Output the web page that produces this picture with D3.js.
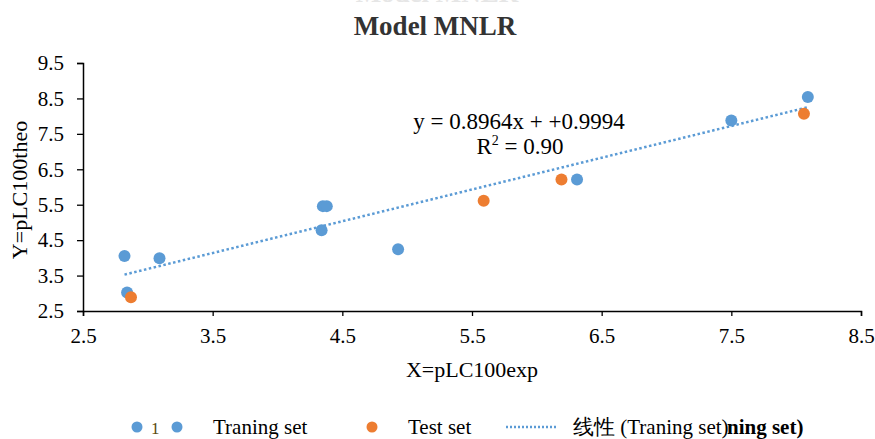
<!DOCTYPE html>
<html>
<head>
<meta charset="utf-8">
<script src="https://cdn.jsdelivr.net/npm/d3@7"></script>
<style>
  body { margin: 0; background: #fff; }
  svg text { font-family: "Liberation Serif", "Times New Roman", serif; fill: #000; }
</style>
</head>
<body>
<div id="chart"></div>
<script>
// values
var trainX = [2.82, 2.84, 3.09, 4.34, 4.35, 4.38, 4.93, 6.31, 7.50, 8.09];
var trainY = [4.05, 3.02, 3.99, 4.78, 5.46, 5.46, 4.24, 6.21, 7.88, 8.54];
var testX = [2.87, 5.59, 6.19, 8.06];
var testY = [2.89, 5.61, 6.21, 8.07];
var xTicks = [2.5, 3.5, 4.5, 5.5, 6.5, 7.5, 8.5];
var yTicks = [2.5, 3.5, 4.5, 5.5, 6.5, 7.5, 8.5, 9.5];
var slope = 0.8964, intercept = 0.9994;

var width = 875, height = 439;
var margin = {top: 63, right: 14, bottom: 128, left: 83};

var svg = d3.select("#chart").append("svg")
    .attr("width", width)
    .attr("height", height);

var x = d3.scaleLinear().domain([2.5, 8.5]).range([margin.left, width - margin.right]);
var y = d3.scaleLinear().domain([2.5, 9.5]).range([height - margin.bottom, margin.top]);

// faint clipped text at the very top (only its lower edge shows)
svg.append("text")
    .attr("x", 437).attr("y", 2)
    .attr("text-anchor", "middle")
    .style("font-size", "27px").style("font-weight", "bold").style("fill", "#e6e6e6")
    .text("Model MNLR");

// title
svg.append("text")
    .attr("x", 435).attr("y", 35)
    .attr("text-anchor", "middle")
    .style("font-size", "27px").style("font-weight", "bold").style("fill", "#333")
    .text("Model MNLR");

// axes
var xAxis = svg.append("g")
    .attr("transform", "translate(0," + y(2.5) + ")")
    .call(d3.axisBottom(x).tickValues(xTicks).tickSize(5).tickPadding(12).tickFormat(d3.format(".1f")));
var yAxis = svg.append("g")
    .attr("transform", "translate(" + x(2.5) + ",0)")
    .call(d3.axisLeft(y).tickValues(yTicks).tickSize(6).tickPadding(13).tickFormat(d3.format(".1f")));

[xAxis, yAxis].forEach(function(g) {
  g.select(".domain").attr("stroke", "#000").attr("stroke-width", 1.5);
  g.selectAll(".tick line").attr("stroke", "#000").attr("stroke-width", 1.3);
  g.selectAll(".tick text").style("font-size", "21px").attr("fill", "#000");
});

// axis labels
svg.append("text")
    .attr("x", 472).attr("y", 377)
    .attr("text-anchor", "middle")
    .style("font-size", "22px")
    .text("X=pLC100exp");
svg.append("text")
    .attr("transform", "translate(27,190) rotate(-90)")
    .attr("text-anchor", "middle")
    .style("font-size", "22px")
    .text("Y=pLC100theo");

// trend line over the training range
var x0 = d3.min(trainX), x1 = d3.max(trainX);
svg.append("line")
    .attr("x1", x(x0)).attr("y1", y(slope * x0 + intercept))
    .attr("x2", x(x1)).attr("y2", y(slope * x1 + intercept))
    .attr("stroke", "#5B9BD5")
    .attr("stroke-width", 2.5)
    .attr("stroke-dasharray", "2.5,2.5");

// points
var train = trainX.map(function(d, i) { return [d, trainY[i]]; });
var test = testX.map(function(d, i) { return [d, testY[i]]; });

svg.append("g").selectAll("circle")
    .data(train).enter().append("circle")
    .attr("cx", function(d) { return x(d[0]); })
    .attr("cy", function(d) { return y(d[1]); })
    .attr("r", 6)
    .style("fill", "#5B9BD5");

svg.append("g").selectAll("circle")
    .data(test).enter().append("circle")
    .attr("cx", function(d) { return x(d[0]); })
    .attr("cy", function(d) { return y(d[1]); })
    .attr("r", 6)
    .style("fill", "#ED7D31");

// equation
svg.append("text")
    .attr("x", 519).attr("y", 129)
    .attr("text-anchor", "middle")
    .style("font-size", "23px")
    .text("y = 0.8964x + +0.9994");
var r2 = svg.append("text")
    .attr("x", 520).attr("y", 154)
    .attr("text-anchor", "middle")
    .style("font-size", "23px");
r2.append("tspan").text("R");
r2.append("tspan").attr("dy", -9).style("font-size", "14px").text("2");
r2.append("tspan").attr("dy", 9).text(" = 0.90");

// legend
var ly = 427;
var legend = svg.append("g");
legend.append("circle").attr("cx", 137).attr("cy", ly).attr("r", 5.5).style("fill", "#5B9BD5");
legend.append("text").attr("x", 151).attr("y", ly + 7).style("font-size", "17px").style("fill", "#5a4a10").text("1");
legend.append("circle").attr("cx", 177).attr("cy", ly).attr("r", 5.5).style("fill", "#5B9BD5");
legend.append("text").attr("x", 213).attr("y", ly + 7).style("font-size", "21px").text("Traning set");
legend.append("circle").attr("cx", 372).attr("cy", ly).attr("r", 5.5).style("fill", "#ED7D31");
legend.append("text").attr("x", 408).attr("y", ly + 7).style("font-size", "21px").text("Test set");
legend.append("line")
    .attr("x1", 506).attr("x2", 557).attr("y1", ly).attr("y2", ly)
    .attr("stroke", "#5B9BD5").attr("stroke-width", 2.5).attr("stroke-dasharray", "2,2");
legend.append("text").attr("x", 573).attr("y", ly + 7).style("font-size", "21px")
    .text("线性 (Traning set)");
legend.append("text").attr("x", 727).attr("y", ly + 7).style("font-size", "21px")
    .style("font-weight", "bold").text("ning set)");
</script>
</body>
</html>
